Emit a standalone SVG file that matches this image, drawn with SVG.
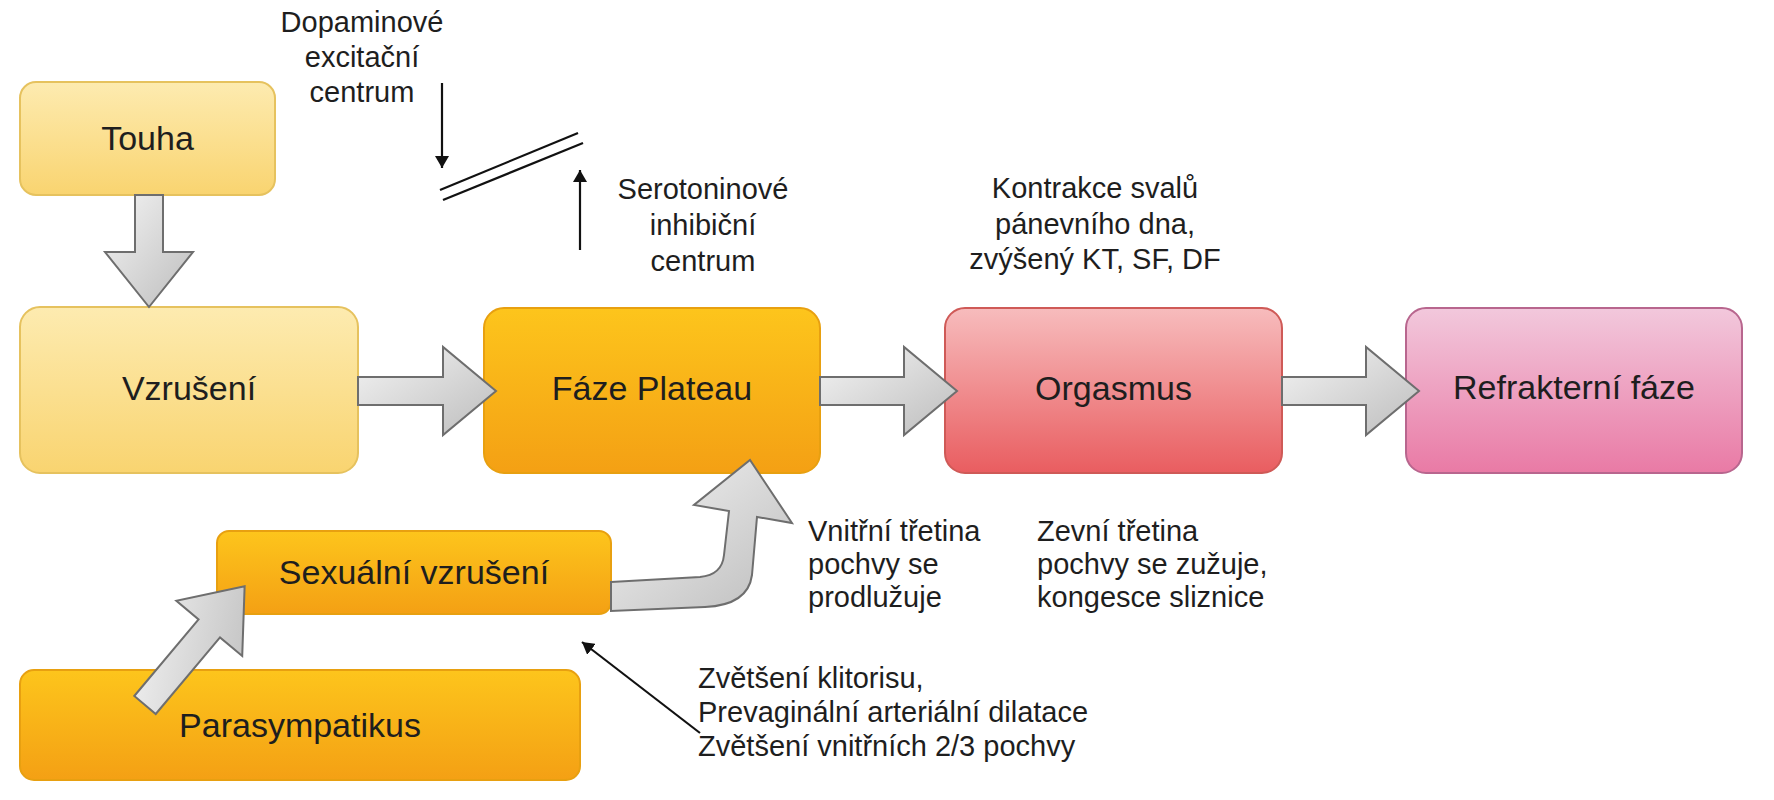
<svg xmlns="http://www.w3.org/2000/svg" width="1774" height="800" viewBox="0 0 1774 800">
<defs>
<linearGradient id="gYellow" x1="0" y1="0" x2="0" y2="1"><stop offset="0" stop-color="#fdebb0"/><stop offset="1" stop-color="#f9d470"/></linearGradient>
<linearGradient id="gOrange" x1="0" y1="0" x2="0" y2="1"><stop offset="0" stop-color="#fdc51c"/><stop offset="1" stop-color="#f4a014"/></linearGradient>
<linearGradient id="gRed" x1="0" y1="0" x2="0" y2="1"><stop offset="0" stop-color="#f7bcbd"/><stop offset="1" stop-color="#e95d60"/></linearGradient>
<linearGradient id="gPink" x1="0" y1="0" x2="0" y2="1"><stop offset="0" stop-color="#f2c8dc"/><stop offset="1" stop-color="#e97aa5"/></linearGradient>
<linearGradient id="gArrow" x1="0" y1="0" x2="1" y2="1"><stop offset="0" stop-color="#f4f4f4"/><stop offset="1" stop-color="#bdbdbd"/></linearGradient>
<marker id="mArr" viewBox="0 0 12 14" refX="12" refY="7" markerWidth="12" markerHeight="14" markerUnits="userSpaceOnUse" orient="auto">
<path d="M0,0 L12,7 L0,14 Z" fill="#111"/>
</marker>
<style>
.box{stroke-width:2}
.yellow{fill:url(#gYellow);stroke:#e6c25e}
.orange{fill:url(#gOrange);stroke:#e8a010}
.red{fill:url(#gRed);stroke:#cf5a57}
.pink{fill:url(#gPink);stroke:#b8668e}
.lbl{font-family:"Liberation Sans",Arial,sans-serif;font-size:34px;fill:#1e1e1e;text-anchor:middle}
.ann{font-family:"Liberation Sans",Arial,sans-serif;font-size:29px;fill:#1e1e1e}
.mid{text-anchor:middle}
.blk{fill:url(#gArrow);stroke:#6e6e6e;stroke-width:2;stroke-linejoin:miter}
.thin{stroke:#111;stroke-width:2.2;fill:none}
</style>
</defs>

<g id="node-touha">
<rect class="box yellow" x="20" y="82" width="255" height="113" rx="16"/>
<text class="lbl" x="147.5" y="150">Touha</text>
</g>
<g id="node-vzruseni">
<rect class="box yellow" x="20" y="307" width="338" height="166" rx="20"/>
<text class="lbl" x="189" y="400">Vzrušení</text>
</g>
<g id="node-plateau">
<rect class="box orange" x="484" y="308" width="336" height="165" rx="20"/>
<text class="lbl" x="652" y="400">Fáze Plateau</text>
</g>
<g id="node-orgasmus">
<rect class="box red" x="945" y="308" width="337" height="165" rx="20"/>
<text class="lbl" x="1113.5" y="400">Orgasmus</text>
</g>
<g id="node-refrakterni">
<rect class="box pink" x="1406" y="308" width="336" height="165" rx="20"/>
<text class="lbl" x="1574" y="399">Refrakterní fáze</text>
</g>
<g id="node-sexualni">
<rect class="box orange" x="217" y="531" width="394" height="83" rx="12"/>
<text class="lbl" x="414" y="584">Sexuální vzrušení</text>
</g>
<g id="node-parasympatikus">
<rect class="box orange" x="20" y="670" width="560" height="110" rx="14"/>
<text class="lbl" x="300" y="737">Parasympatikus</text>
</g>

<g id="connectors">
<polygon class="blk" points="135,195 163,195 163,252 193,252 149,307 105,252 135,252"/>
<polygon class="blk" points="358,377 443,377 443,347 496,391 443,435 443,405 358,405"/>
<polygon class="blk" points="820,377 904,377 904,347 957,391 904,435 904,405 820,405"/>
<polygon class="blk" points="1282,377 1366,377 1366,347 1419,391 1366,435 1366,405 1282,405"/>
<polygon class="blk" transform="translate(145,705) rotate(-50)" points="0,-14 100,-14 100,-43 155,0 100,43 100,14 0,14"/>
<path class="blk" d="M611,582 L700,577 Q722,575 724,555 L729,511 L694,505 L750,460 L792,523 L757,517 L752,575 Q748,605 705,607 L611,611 Z"/>
<line class="thin" x1="442" y1="83" x2="442" y2="168" marker-end="url(#mArr)"/>
<line class="thin" x1="580" y1="250" x2="580" y2="170" marker-end="url(#mArr)"/>
<line class="thin" x1="440" y1="190" x2="578" y2="133"/>
<line class="thin" x1="443" y1="200" x2="583" y2="143"/>
<line class="thin" x1="700" y1="733" x2="582" y2="642" marker-end="url(#mArr)"/>
</g>

<g id="annotations">
<text class="ann mid" x="362" y="32">Dopaminové</text>
<text class="ann mid" x="362" y="67">excitační</text>
<text class="ann mid" x="362" y="102">centrum</text>
<text class="ann mid" x="703" y="199">Serotoninové</text>
<text class="ann mid" x="703" y="235">inhibiční</text>
<text class="ann mid" x="703" y="271">centrum</text>
<text class="ann mid" x="1095" y="198">Kontrakce svalů</text>
<text class="ann mid" x="1095" y="234">pánevního dna,</text>
<text class="ann mid" x="1095" y="269">zvýšený KT, SF, DF</text>
<text class="ann" x="808" y="541">Vnitřní třetina</text>
<text class="ann" x="808" y="574">pochvy se</text>
<text class="ann" x="808" y="607">prodlužuje</text>
<text class="ann" x="1037" y="541">Zevní třetina</text>
<text class="ann" x="1037" y="574">pochvy se zužuje,</text>
<text class="ann" x="1037" y="607">kongesce sliznice</text>
<text class="ann" x="698" y="688">Zvětšení klitorisu,</text>
<text class="ann" x="698" y="722">Prevaginální arteriální dilatace</text>
<text class="ann" x="698" y="756">Zvětšení vnitřních 2/3 pochvy</text>
</g>
</svg>
